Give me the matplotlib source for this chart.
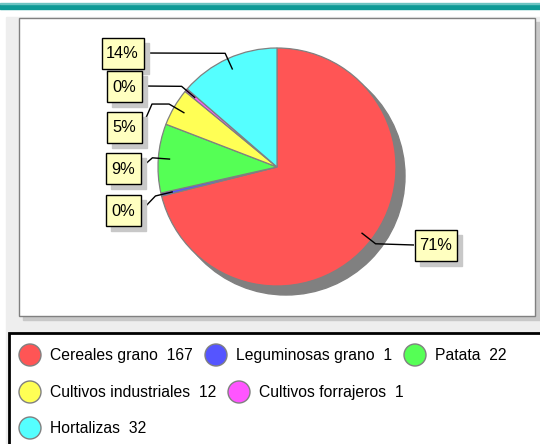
import numpy as np
import matplotlib
matplotlib.use("Agg")
import matplotlib.pyplot as plt
from matplotlib.patches import Rectangle, Circle

plt.rcParams['font.family'] = ['Liberation Sans', 'DejaVu Sans']

# Data
categories = ['Cereales grano', 'Leguminosas grano', 'Patata',
              'Cultivos industriales', 'Cultivos forrajeros', 'Hortalizas']
values = [167, 1, 22, 12, 1, 32]
colors = ['#FF5555', '#5555FF', '#55FF55', '#FFFF55', '#FF55FF', '#55FFFF']

W, H = 540, 444


def Y(py):
    # pixel row (from top) -> data y
    return H - py


fig = plt.figure(figsize=(W / 100, H / 100), dpi=100)
ax = fig.add_axes([0, 0, 1, 1])

# Frame / background
ax.add_patch(Rectangle((0, Y(9)), W, 5, color='#0E9A96', zorder=0))
ax.add_patch(Rectangle((0, Y(4)), W, 1, color='#6CC4C2', zorder=0))
ax.add_patch(Rectangle((6, 0), W - 6, Y(17), color='#EEEEEE', zorder=0))
ax.add_patch(Rectangle((23, Y(320)), 520, 298, color='#C8C8C8', zorder=0.5))
ax.add_patch(Rectangle((19, Y(316)), 516, 298, facecolor='white',
                       edgecolor='#808080', lw=1, zorder=1))

# Pie
cx, cy, r = 277, Y(167), 119
ax.add_patch(Circle((cx + 9, cy - 9), r, color='#808080', zorder=2))
wedges, _ = ax.pie(values, colors=colors, startangle=90, counterclock=False,
                   center=(cx, cy), radius=r,
                   wedgeprops=dict(edgecolor='#808080', linewidth=0.9))
for w in wedges:
    w.set_zorder(3)

# Percent labels with leader lines (layout: box centre, bend x, box anchor)
total = sum(values)
pcts = ['%d%%' % round(v * 100.0 / total) for v in values]
box_centres = [(436, 245), (123, 211), (123, 169), (124.5, 127.5), (124.5, 86.5), (122.5, 53.5)]
anchors = [(414, 245), (142, 210), (142, 167), (142, 127), (142, 86), (143, 53)]
bend_x = [None, None, None, 152, None, None]

ang = 90.0
for i, v in enumerate(values):
    span = v * 360.0 / total
    mid = np.deg2rad(ang - span / 2)
    ang -= span
    inner = (cx + 0.9 * r * np.cos(mid), cy + 0.9 * r * np.sin(mid))
    elbow = (cx + 1.05 * r * np.cos(mid), cy + 1.05 * r * np.sin(mid))
    ax_, ay_ = anchors[i]
    pts = [inner, elbow]
    if bend_x[i] is not None:
        pts.append((bend_x[i], elbow[1]))
    pts.append((ax_, Y(ay_)))
    xs, ys = zip(*pts)
    ax.plot(xs, ys, color='black', lw=1, zorder=4, solid_capstyle='butt')

    bx, by = box_centres[i]
    bw = 42 if len(pcts[i]) == 3 else 35
    bh = 31
    ax.add_patch(Rectangle((bx - bw / 2 + 5, Y(by) - bh / 2 - 5), bw, bh,
                           color='#C8C8C8', zorder=5))
    ax.add_patch(Rectangle((bx - bw / 2, Y(by) - bh / 2), bw, bh,
                           facecolor='#FFFFC0', edgecolor='black', lw=1, zorder=6))
    ax.text(bx, Y(by) - 0.5, pcts[i], fontsize=11.8, ha='center', va='center',
            color='black', zorder=7)

# Legend
ax.add_patch(Rectangle((9, -5), 540, Y(333) + 5, facecolor='white',
                       edgecolor='black', lw=2, zorder=1))
leg_pos = [(30, 355), (216, 355), (415, 355), (30, 392), (239, 392), (30, 428)]
for i, (name, v) in enumerate(zip(categories, values)):
    lx, ly = leg_pos[i]
    ax.add_patch(Circle((lx, Y(ly)), 11, facecolor=colors[i],
                        edgecolor='#808080', lw=1, zorder=3))
    ax.text(lx + 20, Y(ly) - 0.5, '%s  %d' % (name, v), fontsize=11.3,
            ha='left', va='center', zorder=3)

ax.set_xlim(0, W)
ax.set_ylim(0, H)
ax.set_aspect('auto')
ax.axis('off')

fig.savefig('out.png', dpi=100)
